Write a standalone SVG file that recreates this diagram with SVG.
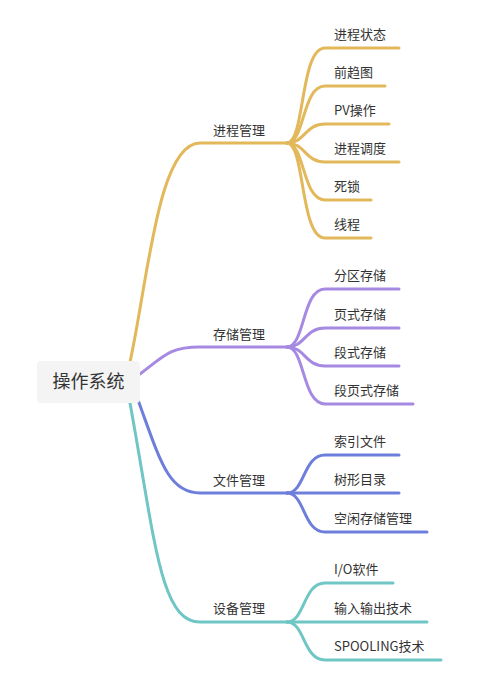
<svg xmlns="http://www.w3.org/2000/svg" width="481" height="683" viewBox="0 0 481 683">
<style>
.t{font-family:"Noto Sans CJK SC","Noto Sans",sans-serif;font-size:13px;fill:#333}
.r{font-family:"Noto Sans CJK SC","Noto Sans",sans-serif;font-size:18px;fill:#333}
path{fill:none;stroke-width:3;stroke-linecap:round}
.y{stroke:#e2b85b}.p{stroke:#a68ae2}.b{stroke:#6e7edb}.c{stroke:#6fc6c5}
</style>
<rect width="481" height="683" fill="#fff"/>
<g id="connectors">
<path class="y" d="M130 362 C148 280,158 143,200 143 L287 143"/>
<path class="p" d="M140 374 C165 355,170 347,200 347 L287 347"/>
<path class="b" d="M138 400 C160 460,168 493,200 493 L287 493"/>
<path class="c" d="M130 403 C155 540,160 622,200 622 L287 622"/>
<path class="y" d="M287 143 C305 143,300 48,325 48 L399 48"/>
<path class="y" d="M287 143 C305 143,302 86,325 86 L385 86"/>
<path class="y" d="M287 143 C305 143,305 124,325 124 L389 124"/>
<path class="y" d="M287 143 C305 143,305 162,325 162 L399 162"/>
<path class="y" d="M287 143 C305 143,302 200,325 200 L371 200"/>
<path class="y" d="M287 143 C305 143,300 238,325 238 L371 238"/>
<path class="p" d="M287 347 C305 347,302 289,325 289 L399 289"/>
<path class="p" d="M287 347 C305 347,305 328,325 328 L399 328"/>
<path class="p" d="M287 347 C305 347,305 366,325 366 L399 366"/>
<path class="p" d="M287 347 C305 347,302 404,325 404 L413 404"/>
<path class="b" d="M287 493 C305 493,303 455,325 455 L399 455"/>
<path class="b" d="M287 493 L399 493"/>
<path class="b" d="M287 493 C305 493,303 532,325 532 L427 532"/>
<path class="c" d="M287 622 C305 622,303 583,325 583 L393 583"/>
<path class="c" d="M287 622 L427 622"/>
<path class="c" d="M287 622 C305 622,303 660,325 660 L441 660"/>
</g>
<g id="root"><rect x="37" y="361" width="103" height="42" rx="4" fill="#f4f4f4"/><text class="r" x="88.5" y="388" text-anchor="middle">操作系统</text></g>
<g id="n1"><text class="t" x="213" y="135">进程管理</text></g>
<g id="n1a"><text class="t" x="334" y="39">进程状态</text></g>
<g id="n1b"><text class="t" x="334" y="77">前趋图</text></g>
<g id="n1c"><text class="t" x="334" y="115">PV操作</text></g>
<g id="n1d"><text class="t" x="334" y="153">进程调度</text></g>
<g id="n1e"><text class="t" x="334" y="191">死锁</text></g>
<g id="n1f"><text class="t" x="334" y="229">线程</text></g>
<g id="n2"><text class="t" x="213" y="339">存储管理</text></g>
<g id="n2a"><text class="t" x="334" y="280">分区存储</text></g>
<g id="n2b"><text class="t" x="334" y="319">页式存储</text></g>
<g id="n2c"><text class="t" x="334" y="357">段式存储</text></g>
<g id="n2d"><text class="t" x="334" y="395">段页式存储</text></g>
<g id="n3"><text class="t" x="213" y="485">文件管理</text></g>
<g id="n3a"><text class="t" x="334" y="446">索引文件</text></g>
<g id="n3b"><text class="t" x="334" y="484">树形目录</text></g>
<g id="n3c"><text class="t" x="334" y="523">空闲存储管理</text></g>
<g id="n4"><text class="t" x="213" y="613">设备管理</text></g>
<g id="n4a"><text class="t" x="334" y="574">I/O软件</text></g>
<g id="n4b"><text class="t" x="334" y="613">输入输出技术</text></g>
<g id="n4c"><text class="t" x="334" y="651">SPOOLING技术</text></g>
</svg>
